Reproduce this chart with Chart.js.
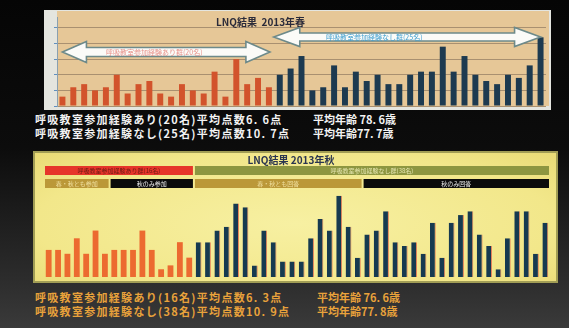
<!DOCTYPE html>
<html lang="ja">
<head>
<meta charset="utf-8">
<title>LNQ結果</title>
<script src="https://cdn.jsdelivr.net/npm/chart.js@4.4.1/dist/chart.umd.min.js"></script>
<style>
  html, body {
    margin: 0;
    padding: 0;
  }
  body {
    width: 569px;
    height: 328px;
    position: relative;
    overflow: hidden;
    background: linear-gradient(#050505 0%, #0c0c0c 45%, #2c2c2c 85%, #3a3a3a 100%);
    font-family: "Noto Sans CJK JP", "Noto Sans", sans-serif;
  }
  .box {
    position: absolute;
  }
  .box canvas {
    display: block;
  }
  #springBox {
    left: 44px;
    top: 10px;
    width: 507px;
    height: 100px;
    background: #e4e5df;
  }
  #autumnBox {
    left: 33px;
    top: 151px;
    width: 525px;
    height: 132px;
    background: radial-gradient(ellipse at 50% 55%, #f7f0a2 0%, #f2e78a 70%, #e8da74 100%);
    box-shadow: inset 0 0 0 2px #a19d55;
  }
  .note, .age {
    position: absolute;
    font-size: 11px;
    font-weight: bold;
    white-space: pre;
    line-height: 13px;
  }
  .note { left: 35px; letter-spacing: 1.3px; }
  .age { letter-spacing: 0; }
  .white { color: #f2f2f2; }
  .amber { color: #e9a23b; }
</style>
</head>
<body>

<div class="box" id="springBox"><canvas id="spring" width="507" height="100"></canvas></div>
<div class="box" id="autumnBox"><canvas id="autumn" width="525" height="132"></canvas></div>

<div class="note white" style="top:113px">呼吸教室参加経験あり(20名)平均点数6. 6点</div>
<div class="age white" style="top:113px; left:313px">平均年齢 78. 6歳</div>
<div class="note white" style="top:127px">呼吸教室参加経験なし(25名)平均点数10. 7点</div>
<div class="age white" style="top:127px; left:313px">平均年齢77. 7歳</div>

<div class="note amber" style="top:291px">呼吸教室参加経験あり(16名)平均点数6. 3点</div>
<div class="age amber" style="top:291px; left:317px">平均年齢 76. 6歳</div>
<div class="note amber" style="top:305px">呼吸教室参加経験なし(38名)平均点数10. 9点</div>
<div class="age amber" style="top:305px; left:317px">平均年齢77. 8歳</div>

<script>
// 2013年春: 各回答者の LNQ 点数
const springWith = [3, 6, 7, 5, 6, 10, 4, 7, 8, 4, 3, 7, 5, 4, 11, 3, 15, 7, 9, 6];
const springWithout = [10, 12, 16, 5, 6, 13, 6, 11, 8, 10, 7, 7, 10, 11, 11, 19, 11, 16, 10, 8, 7, 10, 9, 13, 22];

// 2013年秋
const autumnWith = [7, 7, 6, 10, 6, 12, 6, 7, 7, 7, 12, 7, 2, 3, 9, 5];
const autumnWithout = [9, 9, 12, 13, 19, 18, 3, 12, 9, 4, 4, 4, 10, 15, 12, 21, 13, 5, 11, 12,
  17, 9, 8, 9, 6, 14, 5, 14, 16, 17, 11, 8, 2, 10, 17, 17, 6, 14];

const springTicks = [0, 5, 10, 15, 20, 25];

const groupWith = '呼吸教室参加経験あり群';
const groupWithout = '呼吸教室参加経験なし群';

// 秋の下段: 春にも回答した人数 / 秋のみ
const autumnWithRepeat = 7;
const autumnWithoutRepeat = 18;

function buildSeries(withVals, withoutVals) {
  const labels = [];
  const a = [];
  const b = [];
  withVals.forEach(v => {
    labels.push(String(labels.length + 1));
    a.push(v);
    b.push(null);
  });
  withoutVals.forEach(v => {
    labels.push(String(labels.length + 1));
    a.push(null);
    b.push(v);
  });
  return { labels, a, b };
}

function drawArrow(ctx, x1, x2, cy, shaftH, headH, headL) {
  ctx.beginPath();
  ctx.moveTo(x1, cy);
  ctx.lineTo(x1 + headL, cy - headH / 2);
  ctx.lineTo(x1 + headL, cy - shaftH / 2);
  ctx.lineTo(x2 - headL, cy - shaftH / 2);
  ctx.lineTo(x2 - headL, cy - headH / 2);
  ctx.lineTo(x2, cy);
  ctx.lineTo(x2 - headL, cy + headH / 2);
  ctx.lineTo(x2 - headL, cy + shaftH / 2);
  ctx.lineTo(x1 + headL, cy + shaftH / 2);
  ctx.lineTo(x1 + headL, cy + headH / 2);
  ctx.closePath();
  ctx.fillStyle = '#fbfbf8';
  ctx.fill();
  ctx.lineWidth = 1.6;
  ctx.strokeStyle = '#6d8a8a';
  ctx.stroke();
}

// beige plot area, title and the two group arrows
const springDecor = {
  id: 'springDecor',
  beforeDraw(chart) {
    const { ctx, chartArea } = chart;
    ctx.save();
    ctx.fillStyle = '#e6c797';
    ctx.fillRect(chartArea.left, chartArea.top - 6, chartArea.right - chartArea.left + 3, chartArea.bottom - chartArea.top + 6);
    ctx.restore();
  },
  afterDraw(chart) {
    const { ctx } = chart;
    const x = chart.scales.x;
    const nWith = springWith.length;
    const nAll = nWith + springWithout.length;
    ctx.save();
    ctx.font = 'bold 10px "Noto Sans CJK JP"';
    ctx.fillStyle = '#2b2b3a';
    ctx.textAlign = 'left';
    ctx.textBaseline = 'middle';
    ctx.fillText('LNQ結果  2013年春', 172, 12);

    drawArrow(ctx, x.getPixelForValue(0), x.getPixelForValue(nWith - 1) + 1, 42, 9, 21, 24);
    drawArrow(ctx, x.getPixelForValue(nWith) - 6, x.getPixelForValue(nAll - 1), 27, 8, 19, 26);

    ctx.font = '7px "Noto Sans CJK JP"';
    ctx.textAlign = 'left';
    ctx.fillStyle = 'rgba(226, 110, 100, 0.75)';
    ctx.fillText(groupWith + '(20名)', 62, 42);
    ctx.fillStyle = '#3f9fd0';
    ctx.fillText(groupWithout + '(25名)', 282, 27);
    ctx.restore();
  }
};

// title and the group header bars above the autumn bars
const autumnDecor = {
  id: 'autumnDecor',
  afterDraw(chart) {
    const { ctx } = chart;
    const x = chart.scales.x;
    const step = x.getPixelForValue(1) - x.getPixelForValue(0);
    const edge = i => x.getPixelForValue(i) - step / 2;
    const nWith = autumnWith.length;
    const nAll = nWith + autumnWithout.length;

    ctx.save();
    ctx.font = 'bold 10px "Noto Sans CJK JP"';
    ctx.fillStyle = '#2a3550';
    ctx.textAlign = 'center';
    ctx.textBaseline = 'middle';
    ctx.fillText('LNQ結果 2013年秋', 258, 9);

    const bar = (i0, i1, y, h, fill, text, color) => {
      const l = edge(i0) + 1;
      const r = edge(i1) - 1;
      ctx.fillStyle = fill;
      ctx.fillRect(l, y, r - l, h);
      ctx.font = '6px "Noto Sans CJK JP"';
      ctx.fillStyle = color;
      ctx.fillText(text, (l + r) / 2, y + h / 2 + 0.5);
    };
    bar(0, nWith, 15, 9, '#e6352a', groupWith + '(16名)', '#6b1a12');
    bar(nWith, nAll, 15, 9, '#8d9640', groupWithout + '(38名)', '#e6e6b0');
    bar(0, autumnWithRepeat, 28, 9, '#bb9838', '春・秋とも参加', '#f0e0a0');
    bar(autumnWithRepeat, nWith, 28, 9, '#0b0b0b', '秋のみ参加', '#f0f0f0');
    bar(nWith, nWith + autumnWithoutRepeat, 28, 9, '#bb9838', '春・秋とも回答', '#f0e0a0');
    bar(nWith + autumnWithoutRepeat, nAll, 28, 9, '#0b0b0b', '秋のみ回答', '#f0f0f0');
    ctx.restore();
  }
};

const spring = buildSeries(springWith, springWithout);
const autumn = buildSeries(autumnWith, autumnWithout);

new Chart(document.getElementById('spring'), {
  type: 'bar',
  data: {
    labels: spring.labels,
    datasets: [
      { label: groupWith, data: spring.a, backgroundColor: '#d2532c', barPercentage: 0.55, categoryPercentage: 1 },
      { label: groupWithout, data: spring.b, backgroundColor: '#1d3a50', barPercentage: 0.55, categoryPercentage: 1 }
    ]
  },
  options: {
    responsive: false,
    animation: false,
    devicePixelRatio: 1,
    layout: { padding: { left: 0, right: 5, top: 7, bottom: 4 } },
    datasets: { bar: { grouped: false } },
    plugins: { legend: { display: false }, tooltip: { enabled: false } },
    scales: {
      x: { display: false },
      y: {
        min: 0,
        max: 28.5,
        afterBuildTicks: s => { s.ticks = springTicks.map(v => ({ value: v })); },
        afterFit: s => { s.width = 13; },
        ticks: { display: false },
        grid: { color: '#a99070', lineWidth: 1, drawTicks: true, tickLength: 3, tickColor: '#5f8fbf' },
        border: { color: '#8aa0b0' }
      }
    }
  },
  plugins: [springDecor]
});

new Chart(document.getElementById('autumn'), {
  type: 'bar',
  data: {
    labels: autumn.labels,
    datasets: [
      { label: groupWith, data: autumn.a, backgroundColor: '#ec6a30', barPercentage: 0.62, categoryPercentage: 1 },
      { label: groupWithout, data: autumn.b, backgroundColor: '#163a50', borderColor: '#e3835a', borderWidth: { right: 1 }, borderSkipped: false, barPercentage: 0.62, categoryPercentage: 1 }
    ]
  },
  options: {
    responsive: false,
    animation: false,
    devicePixelRatio: 1,
    layout: { padding: { left: 11, right: 8, top: 37, bottom: 6 } },
    datasets: { bar: { grouped: false } },
    plugins: { legend: { display: false }, tooltip: { enabled: false } },
    scales: {
      x: { display: false },
      y: { display: false, min: 0, max: 23 }
    }
  },
  plugins: [autumnDecor]
});
</script>
</body>
</html>
